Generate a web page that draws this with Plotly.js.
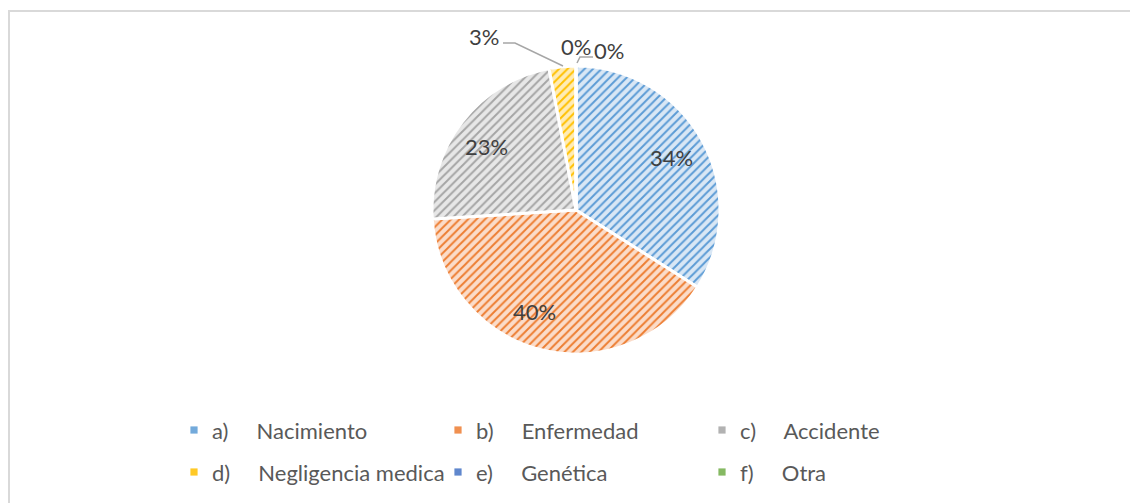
<!DOCTYPE html>
<html>
<head>
<meta charset="utf-8">
<script src="https://cdn.plot.ly/plotly-3.0.1.min.js"></script>
<style>
  html, body { margin: 0; padding: 0; background: #ffffff; overflow: hidden; }
  #frame { position: absolute; left: 8px; top: 10px; width: 1200px; height: 600px;
           border-top: 2px solid #d9d9d9; border-left: 2px solid #d9d9d9; }
  #chart { position: absolute; left: 0; top: 0; width: 1130px; height: 503px; }
</style>
</head>
<body>
<div id="frame"></div>
<div id="chart"></div>
<script>
// ---- data ----
const prefixes = ["a)", "b)", "c)", "d)", "e)", "f)"];
const categories = ["Nacimiento", "Enfermedad", "Accidente", "Negligencia medica", "Genética", "Otra"];
const values = [34, 40, 23, 3, 0, 0];
const percentLabels = ["34%", "40%", "23%", "3%", "0%", "0%"];

// ---- styles ----
const fgColors = ["#5B9BD5", "#ED7D31", "#A5A5A5", "#FFC000", "#4472C4", "#70AD47"];
const bgColors = ["#d9e7f5", "#fbdcc9", "#e7e7e7", "#ffecb5", "#cdd8ef", "#d5e9c8"];
const labelAngleShift = [0, 8, -2.5];   // degrees, "best fit" nudges of inside labels
const NB = "\u00a0";
const FONT = "Lato, 'Noto Sans', sans-serif";

const legendLabels = categories.map((c, i) =>
  '<span style="font-size:22px">' + prefixes[i] + NB.repeat(5) + c + '</span>');

// ---- geometry (plot area is 930 px wide so the legend wraps after 3 entries) ----
const W = 1130, H = 503, MR = 200, GW = W - MR;
const px = x => x / GW;
const py = y => 1 - y / H;
const CX = 576, CY = 210, R = 144;

const trace = {
  type: "pie",
  labels: legendLabels,
  values: values,
  textinfo: "none",
  sort: false,
  direction: "clockwise",
  rotation: 0,
  hoverinfo: "label+percent",
  marker: {
    colors: bgColors,
    line: { color: "#ffffff", width: 3 },
    pattern: {
      shape: "/",
      size: 6,
      solidity: 0.32,
      fgcolor: fgColors,
      bgcolor: bgColors,
      fgopacity: 1,
      fillmode: "replace"
    }
  },
  domain: { x: [px(CX - R), px(CX + R)], y: [py(CY + R), py(CY - R)] }
};

const labelFont = { family: FONT, size: 22, color: "#404040" };

// data labels for the large slices, placed near each slice's mid-angle
const total = values.reduce((a, b) => a + b, 0);
const annotations = [];
let cum = 0;
values.forEach((v, i) => {
  const midDeg = (cum + v / 2) / total * 360;
  cum += v;
  if (i < 3) {
    const a = (midDeg + labelAngleShift[i]) * Math.PI / 180;
    const rr = 0.76 * R;
    annotations.push({
      text: percentLabels[i], xref: "paper", yref: "paper",
      x: px(CX + rr * Math.sin(a)), y: py(CY - rr * Math.cos(a)),
      xanchor: "center", yanchor: "middle", showarrow: false, font: labelFont
    });
  }
});
// external labels for the small slices
const outsidePos = [[484, 37], [576, 47], [609, 50]];
[3, 4, 5].forEach((i, k) => {
  annotations.push({
    text: percentLabels[i], xref: "paper", yref: "paper",
    x: px(outsidePos[k][0]), y: py(outsidePos[k][1]),
    xanchor: "center", yanchor: "middle", showarrow: false, font: labelFont
  });
});

const layout = {
  width: W, height: H,
  margin: { l: 0, r: MR, t: 0, b: 0, autoexpand: false },
  paper_bgcolor: "rgba(0,0,0,0)",
  plot_bgcolor: "rgba(0,0,0,0)",
  font: { family: FONT, color: "#595959" },
  showlegend: true,
  legend: {
    orientation: "h",
    x: px(172), xanchor: "left",
    y: py(401), yanchor: "top",
    entrywidth: 219, entrywidthmode: "pixels",
    font: { size: 30, color: "#595959", family: FONT },
    bgcolor: "rgba(0,0,0,0)",
    traceorder: "normal"
  },
  annotations: annotations,
  shapes: [
    { type: "path", xref: "paper", yref: "paper",
      path: `M ${px(503)},${py(43)} L ${px(515)},${py(43)} L ${px(563)},${py(66)}`,
      line: { color: "#a6a6a6", width: 1.5 } },
    { type: "path", xref: "paper", yref: "paper",
      path: `M ${px(577)},${py(63)} L ${px(580)},${py(57)} L ${px(593)},${py(57)}`,
      line: { color: "#a6a6a6", width: 1.5 } }
  ]
};

Plotly.newPlot("chart", [trace], layout, { displayModeBar: false, staticPlot: true }).then(() => {
  document.querySelectorAll("#chart .legendpoints path").forEach((p, i) => {
    const t = p.getAttribute("transform") || "";
    p.setAttribute("transform", t + " translate(2,3) scale(0.6)");
    p.style.fill = fgColors[i % fgColors.length];
    p.style.fillOpacity = "0.85";
    p.style.stroke = "none";
  });
});
</script>
</body>
</html>
